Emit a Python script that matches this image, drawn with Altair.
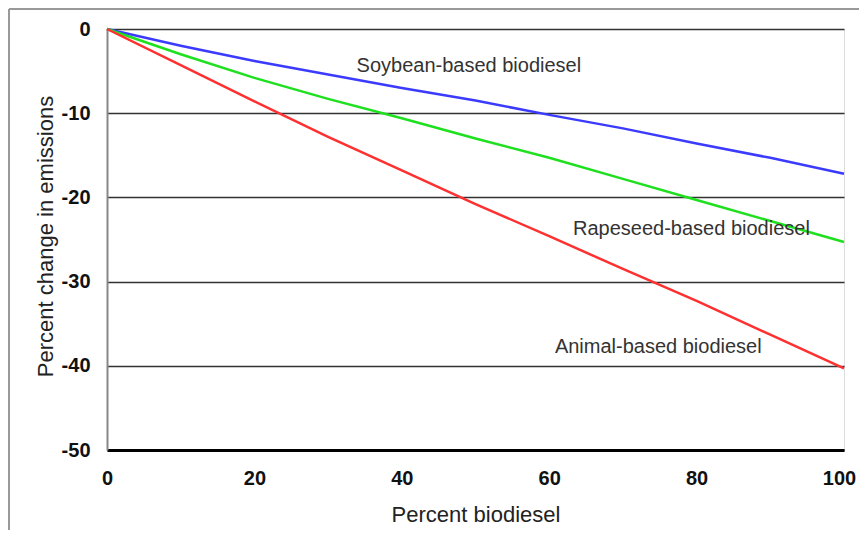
import altair as alt
import pandas as pd

pct = [0, 10, 20, 30, 40, 50, 60, 70, 80, 90, 100]
soybean = [0, -2.0, -3.8, -5.4, -7.0, -8.5, -10.2, -11.8, -13.6, -15.3, -17.2]
rapeseed = [0, -3.0, -5.8, -8.3, -10.6, -13.0, -15.3, -17.8, -20.3, -22.8, -25.3]
animal = [0, -4.3, -8.6, -12.8, -16.8, -20.8, -24.6, -28.5, -32.3, -36.3, -40.3]

series_names = ["Soybean-based biodiesel", "Rapeseed-based biodiesel", "Animal-based biodiesel"]
series_colors = ["#3b3bff", "#1ee01e", "#ff3030"]

label_x = [49.1, 79.3, 74.8]
label_y = [-4.4, -23.75, -37.8]

x_ticks = [0, 20, 40, 60, 80, 100]
y_ticks = [-50, -40, -30, -20, -10, 0]

rows = []
for name, vals in zip(series_names, [soybean, rapeseed, animal]):
    for p, v in zip(pct, vals):
        rows.append({"pct": p, "val": v, "series": name})
df = pd.DataFrame(rows)
labels = pd.DataFrame({"x": label_x, "y": label_y, "text": series_names})

W, H = 737, 421
FONT = "Liberation Sans"

xscale = alt.Scale(domain=[0, 100], nice=False)
yscale = alt.Scale(domain=[-50, 0], nice=False)

xaxis = alt.Axis(
    values=x_ticks, grid=False, ticks=False, domainColor="#000000", domainWidth=3,
    labelFont=FONT, labelFontSize=20, labelFontWeight="bold", labelColor="#111111",
    labelPadding=18, labelFlush=False,
    labelOffset=alt.ExprRef("datum.value == 100 ? -5 : 0"),
    title="Percent biodiesel", titleFont=FONT, titleFontSize=22, titleFontWeight="normal",
    titleColor="#222222", titleBaseline="middle", titleY=64,
)
yaxis = alt.Axis(
    values=y_ticks, grid=True, gridColor="#333333", gridWidth=1.5, ticks=False,
    domainColor="#888888", domainWidth=2,
    labelFont=FONT, labelFontSize=20, labelFontWeight="bold", labelColor="#111111",
    labelPadding=17, labelFlush=False,
    labelExpr="toString(datum.value)",
    title="Percent change in emissions", titleFont=FONT, titleFontSize=22,
    titleFontWeight="normal", titleColor="#222222", titleAngle=-90,
    titleAlign="center", titleBaseline="middle", titleX=-62, titleY=207,
)

lines = alt.Chart(df).mark_line(strokeWidth=2.5).encode(
    x=alt.X("pct:Q", scale=xscale, axis=xaxis),
    y=alt.Y("val:Q", scale=yscale, axis=yaxis),
    color=alt.Color("series:N", scale=alt.Scale(domain=series_names, range=series_colors), legend=None),
    detail="series:N",
)

text = alt.Chart(labels).mark_text(
    font=FONT, fontSize=20, color="#333333", align="center", baseline="middle"
).encode(
    x=alt.X("x:Q", scale=xscale),
    y=alt.Y("y:Q", scale=yscale),
    text="text:N",
)

frame_df = pd.DataFrame({"a": [0]})
frame_top = alt.Chart(frame_df).mark_rule(color="#999999", strokeWidth=2).encode(
    x=alt.value(-98), x2=alt.value(W + 15), y=alt.value(-20)
)
frame_left = alt.Chart(frame_df).mark_rule(color="#999999", strokeWidth=2).encode(
    x=alt.value(-98), y=alt.value(-20), y2=alt.value(H + 80)
)

chart = alt.layer(frame_top, frame_left, lines, text).properties(
    width=W, height=H,
    autosize=alt.AutoSizeParams(type="none"),
    padding={"left": 99, "top": 21, "right": 15, "bottom": 80},
).configure_view(stroke="#444444", strokeWidth=1.5).configure(background="white")

chart.save("out.html", embed_options={"renderer": "svg", "actions": False})
